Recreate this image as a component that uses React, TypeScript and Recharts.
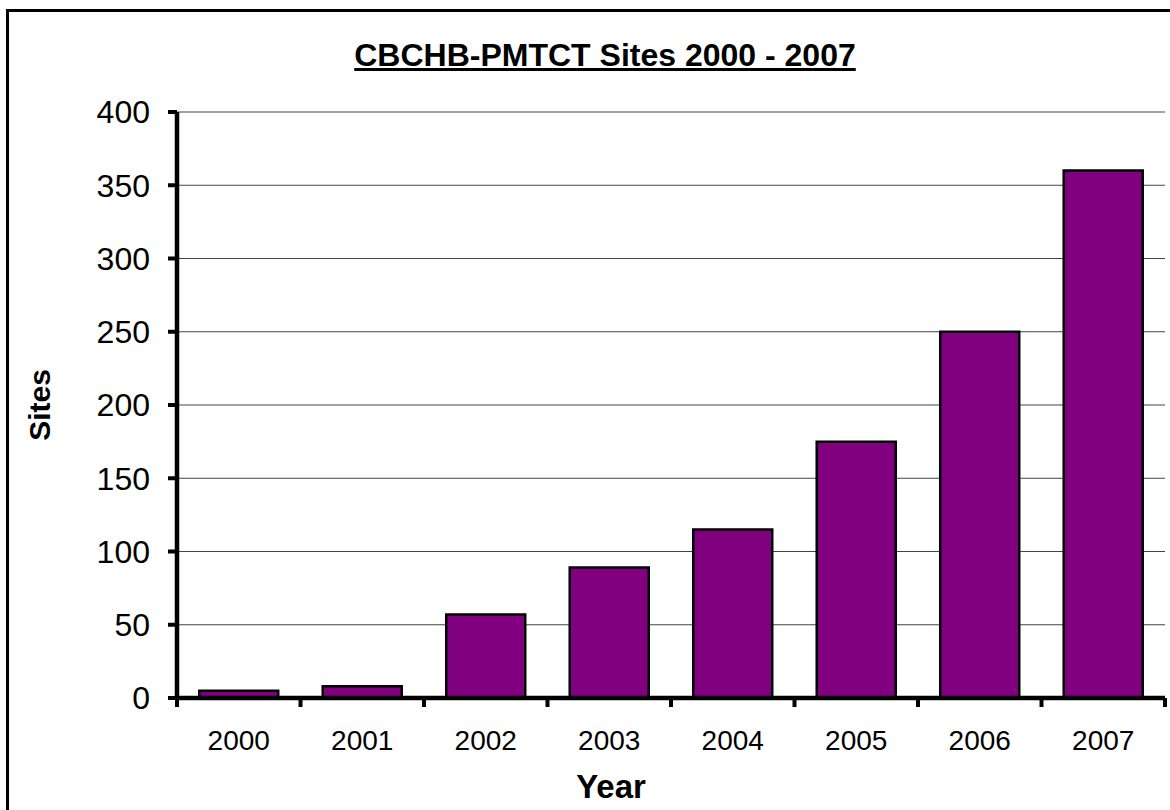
import React from "react";
import { BarChart, Bar, XAxis, YAxis, CartesianGrid } from "recharts";

const years = ["2000", "2001", "2002", "2003", "2004", "2005", "2006", "2007"];
const sites = [5, 8, 57, 89, 115, 175, 250, 360];
const yTicks = [0, 50, 100, 150, 200, 250, 300, 350, 400];
const titleText = "CBCHB-PMTCT Sites 2000 - 2007";
const yLabel = "Sites";
const xLabel = "Year";

const data = years.map((y, i) => ({ year: y, sites: sites[i] }));

const FONT = "'Liberation Sans', Arial, sans-serif";

const XTick = (props: any) => {
  const { x, y, payload, index, visibleTicksCount } = props;
  const off = payload && payload.offset ? payload.offset : 61.75;
  const last = index === (visibleTicksCount ?? years.length) - 1;
  return (
    <g>
      <line x1={x - off} x2={x - off} y1={y} y2={y + 9} stroke="#000" strokeWidth={4} />
      {last && <line x1={x + off} x2={x + off} y1={y} y2={y + 9} stroke="#000" strokeWidth={4} />}
      <text x={x} y={y + 52} textAnchor="middle" fontSize={28} fontFamily={FONT} fill="#000">
        {payload.value}
      </text>
    </g>
  );
};

export default function App() {
  return (
    <div
      style={{
        position: "absolute",
        left: 0,
        top: 0,
        width: 1170,
        height: 810,
        overflow: "hidden",
        background: "#fff",
        fontFamily: FONT,
      }}
    >
      <div
        style={{
          position: "absolute",
          left: 6,
          top: 9,
          width: 1300,
          height: 1000,
          border: "3px solid #000",
          boxSizing: "border-box",
        }}
      />
      <div
        style={{
          position: "absolute",
          left: 0,
          width: 1210,
          top: 37,
          textAlign: "center",
          fontSize: 32,
          fontWeight: "bold",
          textDecoration: "underline",
          textDecorationThickness: 3,
          lineHeight: "36px",
          color: "#000",
        }}
      >
        {titleText}
      </div>
      <div
        style={{
          position: "absolute",
          left: 0,
          width: 1222,
          top: 768,
          textAlign: "center",
          fontSize: 33,
          fontWeight: "bold",
          lineHeight: "38px",
          color: "#000",
        }}
      >
        {xLabel}
      </div>
      <div
        style={{
          position: "absolute",
          left: 40,
          top: 405,
          transform: "translate(-50%, -50%) rotate(-90deg)",
          fontSize: 30,
          fontWeight: "bold",
          lineHeight: "34px",
          color: "#000",
          whiteSpace: "nowrap",
        }}
      >
        {yLabel}
      </div>
      <div style={{ position: "absolute", left: 0, top: 0 }}>
        <BarChart
          width={1170}
          height={810}
          data={data}
          margin={{ top: 112, right: 5, left: 77, bottom: 52 }}
          barCategoryGap="18%"
        >
          <CartesianGrid vertical={false} yAxisId="left" stroke="#444" strokeWidth={1} />
          <XAxis
            dataKey="year"
            height={60}
            axisLine={{ stroke: "#000", strokeWidth: 4.5 }}
            tickLine={false}
            tickSize={0}
            tickMargin={0}
            tick={<XTick />}
            interval={0}
          />
          <YAxis
            yAxisId="left"
            width={100}
            domain={[0, 400]}
            ticks={yTicks}
            interval={0}
            axisLine={{ stroke: "#000", strokeWidth: 4.5 }}
            tickLine={{ stroke: "#000", strokeWidth: 4 }}
            tickSize={9}
            tickMargin={18}
            tick={{ fontSize: 32, fill: "#000", fontFamily: FONT }}
          />
          <YAxis
            yAxisId="right"
            orientation="right"
            width={0}
            domain={[0, 400]}
            tick={false}
            tickLine={false}
            axisLine={{ stroke: "#888", strokeWidth: 2 }}
          />
          <Bar
            yAxisId="left"
            dataKey="sites"
            fill="#800080"
            stroke="#000"
            strokeWidth={2.5}
            isAnimationActive={false}
          />
        </BarChart>
      </div>
    </div>
  );
}
